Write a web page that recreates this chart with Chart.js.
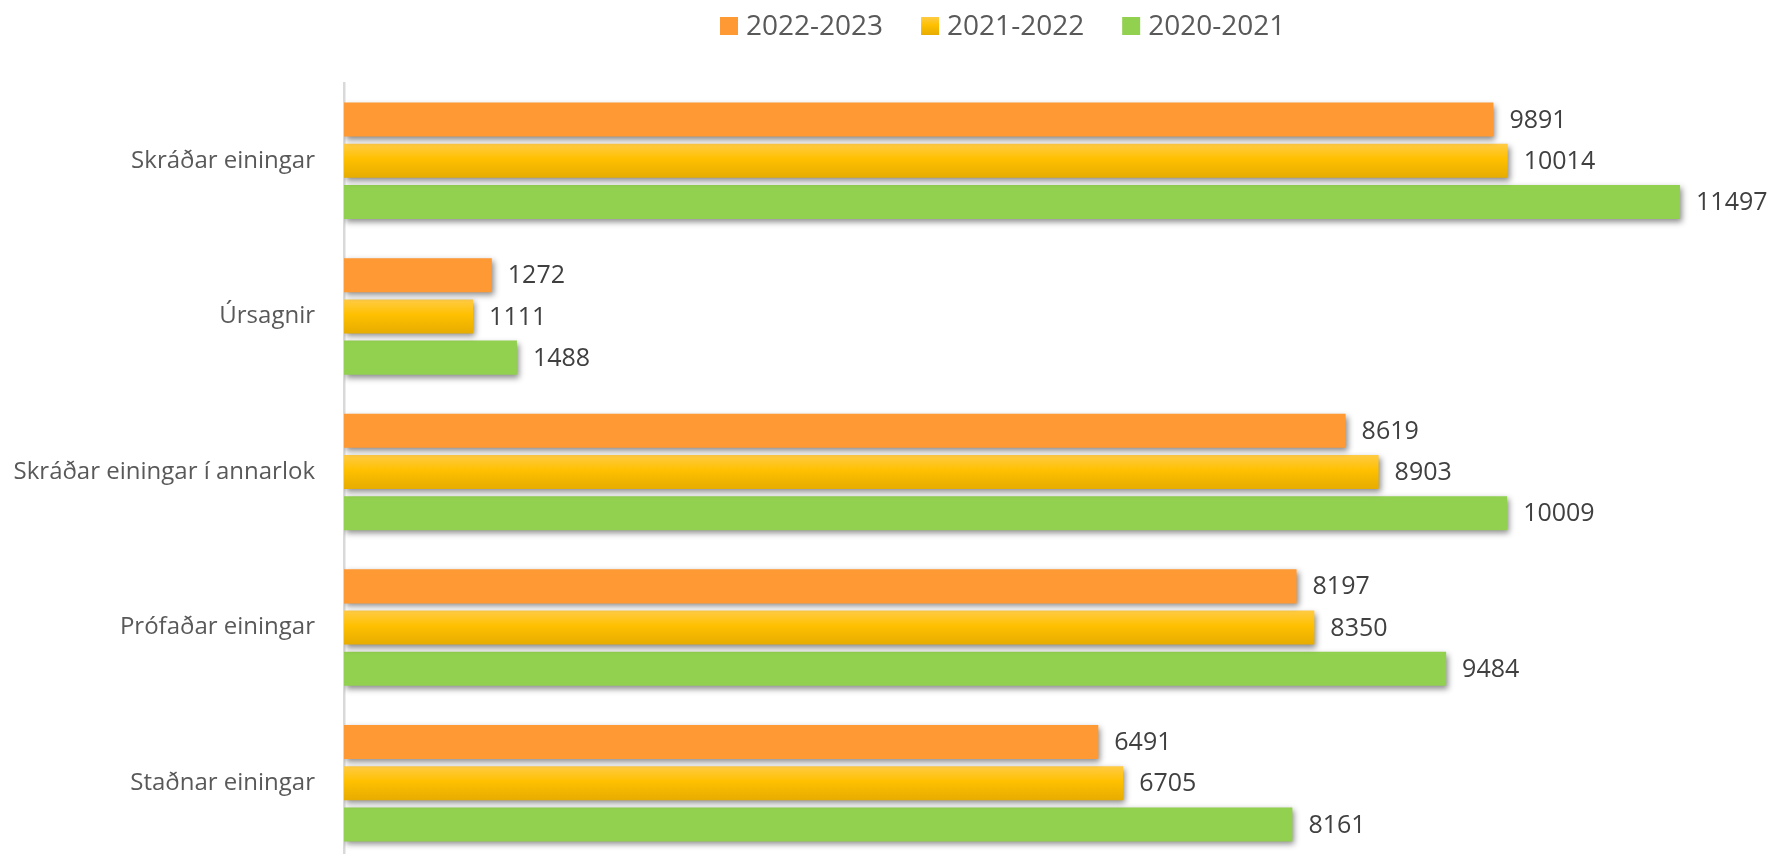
<!DOCTYPE html>
<html lang="is">
<head>
<meta charset="utf-8">
<title>Einingar</title>
<script src="https://cdn.jsdelivr.net/npm/chart.js@4.4.1/dist/chart.umd.min.js"></script>
<style>
  html, body { margin: 0; padding: 0; background: #fff; overflow: hidden; }
  canvas { display: block; }
</style>
</head>
<body>
<canvas id="grafEiningar" width="1772" height="862"></canvas>
<script>
// Gögn lesin af myndinni
const FLOKKAR     = ["Skráðar einingar", "Úrsagnir", "Skráðar einingar í annarlok", "Prófaðar einingar", "Staðnar einingar"];
const SERIUHEITI  = ["2022-2023", "2021-2022", "2020-2021"];
const AR_2022_2023 = [9891, 1272, 8619, 8197, 6491];
const AR_2021_2022 = [10014, 1111, 8903, 8350, 6705];
const AR_2020_2021 = [11497, 1488, 10009, 9484, 8161];

const X_MAX    = 12000;
const CAT_PCT  = 0.795;
const BAR_PCT  = 0.825;
const LETUR    = "'Open Sans', 'Noto Sans', sans-serif";
const LITIR    = ["#FF9933", "#FFC000", "#92D050"];

// Gulu súlurnar eru með litastigul ofan frá og niður
function gulurLitur(ctx) {
  const chart = ctx.chart;
  const y = chart.scales.y;
  if (!y || ctx.dataIndex === undefined) return LITIR[1];
  const midja = y.getPixelForValue(ctx.dataIndex);
  const bil   = Math.abs(y.getPixelForValue(1) - y.getPixelForValue(0));
  if (!isFinite(midja) || !isFinite(bil) || bil === 0) return LITIR[1];
  const haed  = bil * CAT_PCT / 3 * BAR_PCT;
  const g = chart.ctx.createLinearGradient(0, midja - haed / 2, 0, midja + haed / 2);
  g.addColorStop(0,    "#FFCB45");
  g.addColorStop(0.45, "#FFC000");
  g.addColorStop(1,    "#E6AC00");
  return g;
}

// Skuggi undir súlunum
const skuggi = {
  id: "skuggi",
  beforeDatasetsDraw(chart) {
    const c = chart.ctx;
    c.save();
    c.shadowColor   = "rgba(0, 0, 0, 0.45)";
    c.shadowBlur    = 6;
    c.shadowOffsetX = 2;
    c.shadowOffsetY = 3;
  },
  afterDatasetsDraw(chart) {
    chart.ctx.restore();
  },
};

// Gildin til hægri við hverja súlu
const gildi = {
  id: "gildi",
  afterDatasetsDraw(chart) {
    const c = chart.ctx;
    c.save();
    c.font = "25px " + LETUR;
    c.fillStyle = "#404040";
    c.textAlign = "left";
    c.textBaseline = "middle";
    chart.data.datasets.forEach((ds, i) => {
      chart.getDatasetMeta(i).data.forEach((bar, j) => {
        c.fillText(String(ds.data[j]), bar.x + 16, bar.y + 1);
      });
    });
    c.restore();
  },
};

// Skýringar efst (eins og í Excel, aðeins til hægri við miðju)
const skyringar = {
  id: "skyringar",
  afterDraw(chart) {
    const c = chart.ctx;
    c.save();
    c.font = "28px " + LETUR;
    c.textBaseline = "middle";
    c.textAlign = "left";
    let x = 720;
    const y = 26;
    chart.data.datasets.forEach((ds, i) => {
      if (i === 1) {
        const g = c.createLinearGradient(0, y - 9, 0, y + 9);
        g.addColorStop(0, "#FFCB45");
        g.addColorStop(0.45, "#FFC000");
        g.addColorStop(1, "#E6AC00");
        c.fillStyle = g;
      } else {
        c.fillStyle = LITIR[i];
      }
      c.fillRect(x, y - 9, 18, 18);
      x += 18 + 8;
      c.fillStyle = "#595959";
      c.fillText(ds.label, x, y + 1);
      x += c.measureText(ds.label).width + 38;
    });
    c.restore();
  },
};

new Chart(document.getElementById("grafEiningar"), {
  type: "bar",
  data: {
    labels: FLOKKAR,
    datasets: [
      { label: SERIUHEITI[0], data: AR_2022_2023, backgroundColor: LITIR[0] },
      { label: SERIUHEITI[1], data: AR_2021_2022, backgroundColor: gulurLitur },
      { label: SERIUHEITI[2], data: AR_2020_2021, backgroundColor: LITIR[2] },
    ],
  },
  options: {
    indexAxis:          "y",
    responsive:         false,
    animation:          false,
    devicePixelRatio:   1,
    categoryPercentage: CAT_PCT,
    barPercentage:      BAR_PCT,
    layout: { padding: { top: 83, right: 33.5, bottom: 1, left: 0 } },
    plugins: {
      legend:  { display: false },
      tooltip: { enabled: false },
    },
    scales: {
      x: {
        display: false,
        min: 0,
        max: X_MAX,
      },
      y: {
        grid:   { display: false },
        border: { display: true, color: "#D9D9D9", width: 2.5 },
        ticks:  { color: "#595959", font: { family: LETUR, size: 24 }, padding: 21 },
        afterFit: scale => {
          scale.width = 344;
          // ekkert aukabil efst/neðst vegna merkimiða
          scale.paddingTop = 0;
          scale.paddingBottom = 0;
        },
      },
    },
  },
  plugins: [skuggi, gildi, skyringar],
});
</script>
</body>
</html>
